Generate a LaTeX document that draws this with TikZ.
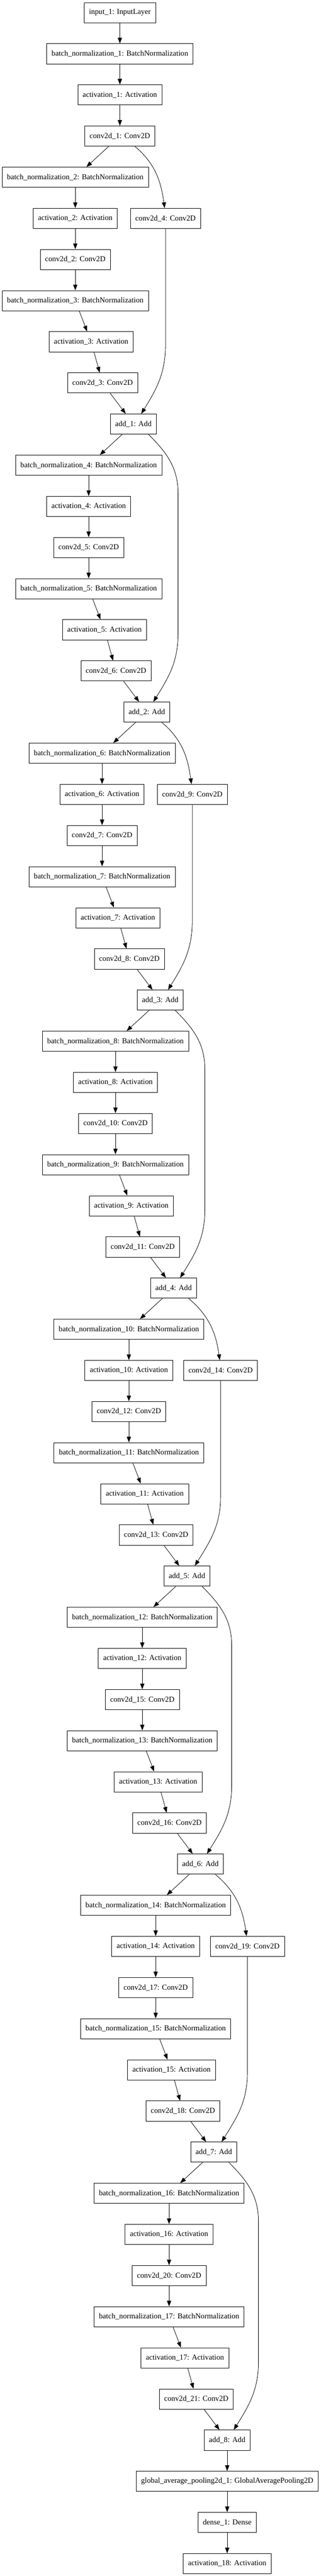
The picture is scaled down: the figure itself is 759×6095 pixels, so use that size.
\documentclass[tikz,border=0pt]{standalone}
\usepackage{fontspec}
\setmainfont{Liberation Serif}
\usetikzlibrary{arrows.meta,positioning}
\tikzset{
    layer/.style={
        rectangle,
        draw=black,
        line width=1pt,
        minimum height=47.7pt,
        inner xsep=11.5pt,
        inner ysep=0pt,
        font=\fontsize{18}{21}\selectfont,
    },
    link/.style={
        -{Triangle[length=13.5pt,width=10pt]},
        line width=1pt,
    },
    every edge/.style={
        draw,
        link,
    },
    node distance=97.35pt,
  }

\begin{document}
\begin{tikzpicture}[x=1pt,y=1pt]
\useasboundingbox (0,0) rectangle (759,-6095);

              % stem
              \node [layer] (in1) at (283.6,-29.9) {input\_1: InputLayer};
              \node [layer, below of=in1] (bn1) {batch\_normalization\_1: BatchNormalization};
              \node [layer, below of=bn1] (act1) {activation\_1: Activation};
              \node [layer, below of=act1] (cv1) {conv2d\_1: Conv2D};

              % block 1
              \node [layer, below of=cv1, xshift=-105.5pt] (bn2) {batch\_normalization\_2: BatchNormalization};
              \node [layer, below of=bn2] (act2) {activation\_2: Activation};
              \node [layer, right=30pt of act2] (cv4) {conv2d\_4: Conv2D};
              \node [layer, below of=act2] (cv2) {conv2d\_2: Conv2D};
              \node [layer, below of=cv2] (bn3) {batch\_normalization\_3: BatchNormalization};
              \node [layer, below of=bn3, xshift=37.5pt] (act3) {activation\_3: Activation};
              \node [layer, below of=act3, xshift=27pt] (cv3) {conv2d\_3: Conv2D};
              \node [layer, below of=cv3, xshift=73pt] (add1) {add\_1: Add};

              % block 2
              \node [layer, below of=add1, xshift=-105.8pt] (bn4) {batch\_normalization\_4: BatchNormalization};
              \node [layer, below of=bn4] (act4) {activation\_4: Activation};
              \node [layer, below of=act4] (cv5) {conv2d\_5: Conv2D};
              \node [layer, below of=cv5] (bn5) {batch\_normalization\_5: BatchNormalization};
              \node [layer, below of=bn5, xshift=37.5pt] (act5) {activation\_5: Activation};
              \node [layer, below of=act5, xshift=27pt] (cv6) {conv2d\_6: Conv2D};
              \node [layer, below of=cv6, xshift=73pt] (add2) {add\_2: Add};

              % block 3
              \node [layer, below of=add2, xshift=-105.8pt] (bn6) {batch\_normalization\_6: BatchNormalization};
              \node [layer, below of=bn6] (act6) {activation\_6: Activation};
              \node [layer, right=30pt of act6] (cv9) {conv2d\_9: Conv2D};
              \node [layer, below of=act6] (cv7) {conv2d\_7: Conv2D};
              \node [layer, below of=cv7] (bn7) {batch\_normalization\_7: BatchNormalization};
              \node [layer, below of=bn7, xshift=37.5pt] (act7) {activation\_7: Activation};
              \node [layer, below of=act7, xshift=27pt] (cv8) {conv2d\_8: Conv2D};
              \node [layer, below of=cv8, xshift=73pt] (add3) {add\_3: Add};

              % block 4
              \node [layer, below of=add3, xshift=-105.8pt] (bn8) {batch\_normalization\_8: BatchNormalization};
              \node [layer, below of=bn8] (act8) {activation\_8: Activation};
              \node [layer, below of=act8] (cv10) {conv2d\_10: Conv2D};
              \node [layer, below of=cv10] (bn9) {batch\_normalization\_9: BatchNormalization};
              \node [layer, below of=bn9, xshift=37.5pt] (act9) {activation\_9: Activation};
              \node [layer, below of=act9, xshift=27pt] (cv11) {conv2d\_11: Conv2D};
              \node [layer, below of=cv11, xshift=73pt] (add4) {add\_4: Add};

              % block 5
              \node [layer, below of=add4, xshift=-105.8pt] (bn10) {batch\_normalization\_10: BatchNormalization};
              \node [layer, below of=bn10] (act10) {activation\_10: Activation};
              \node [layer, right=24.5pt of act10] (cv14) {conv2d\_14: Conv2D};
              \node [layer, below of=act10] (cv12) {conv2d\_12: Conv2D};
              \node [layer, below of=cv12] (bn11) {batch\_normalization\_11: BatchNormalization};
              \node [layer, below of=bn11, xshift=37.5pt] (act11) {activation\_11: Activation};
              \node [layer, below of=act11, xshift=27pt] (cv13) {conv2d\_13: Conv2D};
              \node [layer, below of=cv13, xshift=73pt] (add5) {add\_5: Add};

              % block 6
              \node [layer, below of=add5, xshift=-105.8pt] (bn12) {batch\_normalization\_12: BatchNormalization};
              \node [layer, below of=bn12] (act12) {activation\_12: Activation};
              \node [layer, below of=act12] (cv15) {conv2d\_15: Conv2D};
              \node [layer, below of=cv15] (bn13) {batch\_normalization\_13: BatchNormalization};
              \node [layer, below of=bn13, xshift=37.5pt] (act13) {activation\_13: Activation};
              \node [layer, below of=act13, xshift=27pt] (cv16) {conv2d\_16: Conv2D};
              \node [layer, below of=cv16, xshift=73pt] (add6) {add\_6: Add};

              % block 7
              \node [layer, below of=add6, xshift=-105.8pt] (bn14) {batch\_normalization\_14: BatchNormalization};
              \node [layer, below of=bn14] (act14) {activation\_14: Activation};
              \node [layer, right=24.5pt of act14] (cv19) {conv2d\_19: Conv2D};
              \node [layer, below of=act14] (cv17) {conv2d\_17: Conv2D};
              \node [layer, below of=cv17] (bn15) {batch\_normalization\_15: BatchNormalization};
              \node [layer, below of=bn15, xshift=37.5pt] (act15) {activation\_15: Activation};
              \node [layer, below of=act15, xshift=27pt] (cv18) {conv2d\_18: Conv2D};
              \node [layer, below of=cv18, xshift=73pt] (add7) {add\_7: Add};

              % block 8
              \node [layer, below of=add7, xshift=-105.8pt] (bn16) {batch\_normalization\_16: BatchNormalization};
              \node [layer, below of=bn16] (act16) {activation\_16: Activation};
              \node [layer, below of=act16] (cv20) {conv2d\_20: Conv2D};
              \node [layer, below of=cv20] (bn17) {batch\_normalization\_17: BatchNormalization};
              \node [layer, below of=bn17, xshift=37.5pt] (act17) {activation\_17: Activation};
              \node [layer, below of=act17, xshift=27pt] (cv21) {conv2d\_21: Conv2D};
              \node [layer, below of=cv21, xshift=73pt] (add8) {add\_8: Add};

              % head
              \node [layer, below of=add8] (gap1) {global\_average\_pooling2d\_1: GlobalAveragePooling2D};
              \node [layer, below of=gap1] (dense1) {dense\_1: Dense};
              \node [layer, below of=dense1] (act18) {activation\_18: Activation};

              \draw (in1) edge (bn1);
              \draw (bn1) edge (act1);
              \draw (act1) edge (cv1);

              \draw (cv1) edge (bn2);
              \draw (bn2) edge (act2);
              \draw (act2) edge (cv2);
              \draw (cv2) edge (bn3);
              \draw (bn3) edge (act3);
              \draw (act3) edge (cv3);
              \draw (cv3) edge (add1);
              \draw[link] ([xshift=35.5pt]cv1.south) to[out=-40,in=98] ([xshift=-2pt]cv4.north);
              \draw[link] (cv4.south) -- ++(0,-274) to[out=-90,in=58] ([xshift=18.5pt]add1.north);

              \draw (add1) edge (bn4);
              \draw (bn4) edge (act4);
              \draw (act4) edge (cv5);
              \draw (cv5) edge (bn5);
              \draw (bn5) edge (act5);
              \draw (act5) edge (cv6);
              \draw (cv6) edge (add2);
              \draw[link] ([xshift=35.7pt]add1.south) to[out=-45,in=90] ++(70,-140) -- ++(0,-331) to[out=-90,in=58] ([xshift=15.5pt]add2.north);

              \draw (add2) edge (bn6);
              \draw (bn6) edge (act6);
              \draw (act6) edge (cv7);
              \draw (cv7) edge (bn7);
              \draw (bn7) edge (act7);
              \draw (act7) edge (cv8);
              \draw (cv8) edge (add3);
              \draw[link] ([xshift=35.5pt]add2.south) to[out=-40,in=98] ([xshift=-2pt]cv9.north);
              \draw[link] (cv9.south) -- ++(0,-274) to[out=-90,in=58] ([xshift=18.5pt]add3.north);

              \draw (add3) edge (bn8);
              \draw (bn8) edge (act8);
              \draw (act8) edge (cv10);
              \draw (cv10) edge (bn9);
              \draw (bn9) edge (act9);
              \draw (act9) edge (cv11);
              \draw (cv11) edge (add4);
              \draw[link] ([xshift=35.7pt]add3.south) to[out=-45,in=90] ++(70,-140) -- ++(0,-331) to[out=-90,in=58] ([xshift=15.5pt]add4.north);

              \draw (add4) edge (bn10);
              \draw (bn10) edge (act10);
              \draw (act10) edge (cv12);
              \draw (cv12) edge (bn11);
              \draw (bn11) edge (act11);
              \draw (act11) edge (cv13);
              \draw (cv13) edge (add5);
              \draw[link] ([xshift=35.5pt]add4.south) to[out=-40,in=98] ([xshift=-2pt]cv14.north);
              \draw[link] (cv14.south) -- ++(0,-274) to[out=-90,in=58] ([xshift=18.5pt]add5.north);

              \draw (add5) edge (bn12);
              \draw (bn12) edge (act12);
              \draw (act12) edge (cv15);
              \draw (cv15) edge (bn13);
              \draw (bn13) edge (act13);
              \draw (act13) edge (cv16);
              \draw (cv16) edge (add6);
              \draw[link] ([xshift=35.7pt]add5.south) to[out=-45,in=90] ++(70,-140) -- ++(0,-331) to[out=-90,in=58] ([xshift=15.5pt]add6.north);

              \draw (add6) edge (bn14);
              \draw (bn14) edge (act14);
              \draw (act14) edge (cv17);
              \draw (cv17) edge (bn15);
              \draw (bn15) edge (act15);
              \draw (act15) edge (cv18);
              \draw (cv18) edge (add7);
              \draw[link] ([xshift=35.5pt]add6.south) to[out=-40,in=98] ([xshift=-2pt]cv19.north);
              \draw[link] (cv19.south) -- ++(0,-274) to[out=-90,in=58] ([xshift=18.5pt]add7.north);

              \draw (add7) edge (bn16);
              \draw (bn16) edge (act16);
              \draw (act16) edge (cv20);
              \draw (cv20) edge (bn17);
              \draw (bn17) edge (act17);
              \draw (act17) edge (cv21);
              \draw (cv21) edge (add8);
              \draw[link] ([xshift=35.7pt]add7.south) to[out=-45,in=90] ++(70,-140) -- ++(0,-331) to[out=-90,in=58] ([xshift=15.5pt]add8.north);

              \draw (add8) edge (gap1);
              \draw (gap1) edge (dense1);
              \draw (dense1) edge (act18);
            \end{tikzpicture}
\end{document}
